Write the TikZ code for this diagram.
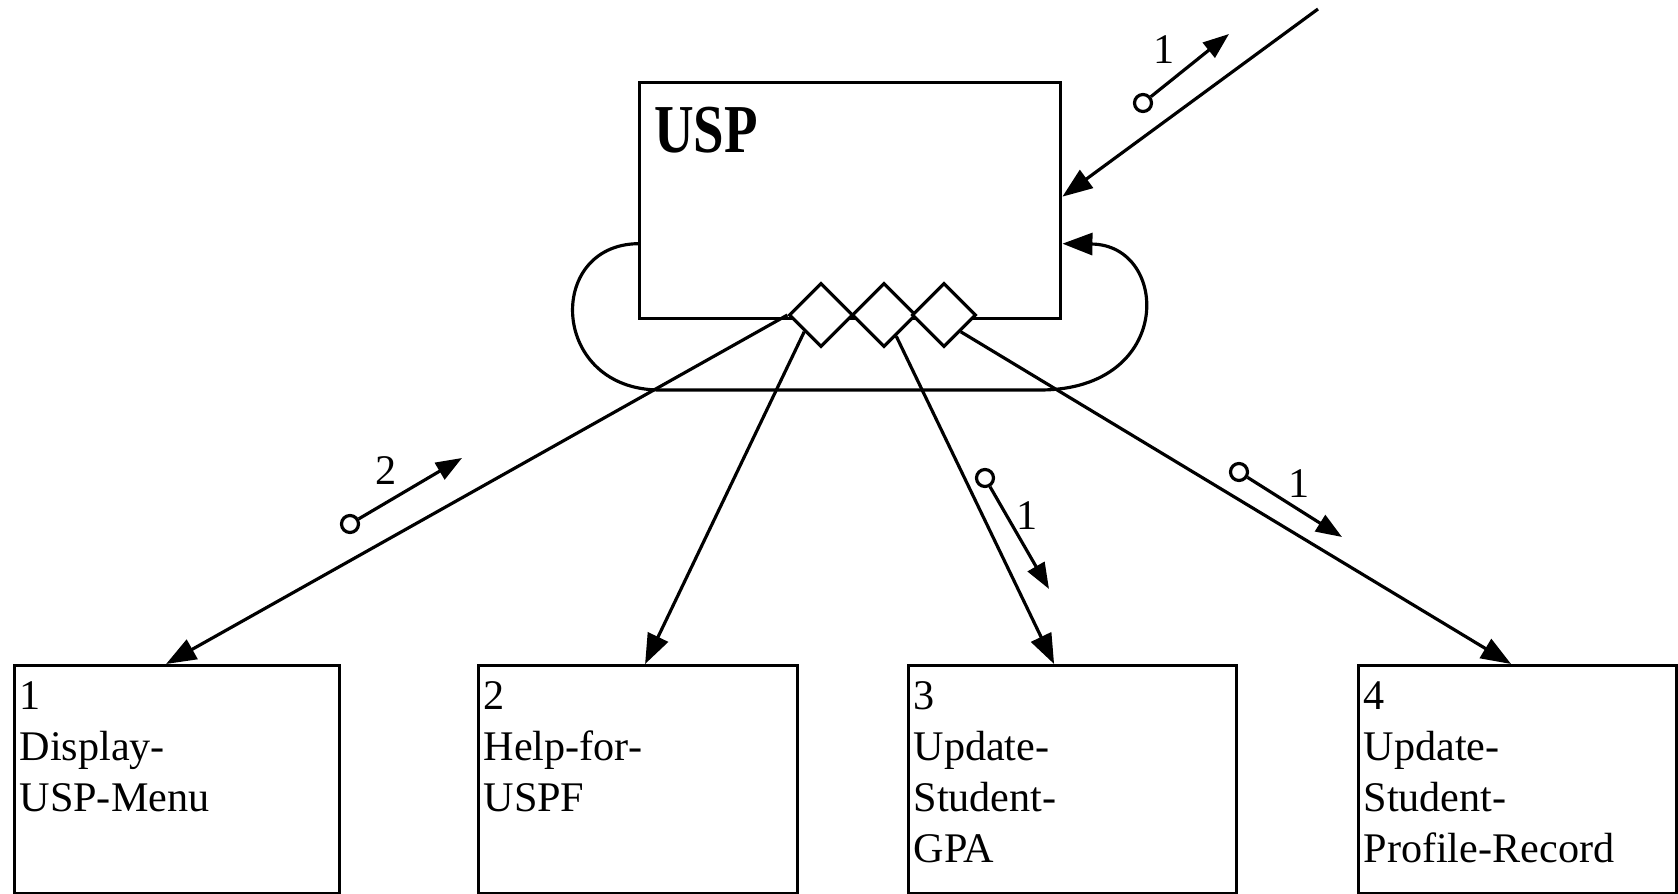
\documentclass[tikz,border=0pt]{standalone}
\usepackage{fontspec}
\setmainfont{Liberation Serif}
\newfontfamily\uspfont[FakeStretch=0.8]{Liberation Serif}
\usetikzlibrary{arrows.meta,shapes.geometric}
\begin{document}
\begin{tikzpicture}[x=0.01cm,y=-0.01cm,line width=0.9pt,
    proc/.style={draw,anchor=north west,minimum height=2.28cm,inner sep=0pt},
    txt/.style={anchor=north west,align=left,inner xsep=0.05cm,inner ysep=4.5pt,font=\fontsize{12}{14.5}\selectfont},
    conn/.style={diamond,draw,fill=white,minimum width=0.64cm,minimum height=0.64cm,inner sep=0pt},
    flow/.style={-{Triangle[length=0.3cm,width=0.22cm]}},
    cpl/.style={circle,draw,fill=white,minimum size=0.17cm,inner sep=0pt},
    cplarrow/.style={-{Triangle[length=0.26cm,width=0.19cm]}},
    num/.style={font=\fontsize{12}{14.5}\selectfont,inner sep=0pt}]
  \useasboundingbox (0,0) rectangle (1678,894);
  % calling module
  \node[proc,minimum width=4.21cm,minimum height=2.36cm] (usp) at (638,81) {};
  \node[anchor=base west,font=\uspfont\bfseries\fontsize{19.5}{24}\selectfont] (usplbl) at (641,153) {USP};
  \draw
    (821,315) node[conn] (d1){}
    (884,315) node[conn] (d2){}
    (944,315) node[conn] (d3){};
  % called modules
  \node[proc,minimum width=3.25cm] (p1) at (13,664) {};
  \node[proc,minimum width=3.19cm] (p2) at (477,664) {};
  \node[proc,minimum width=3.28cm] (p3) at (907,664) {};
  \node[proc,minimum width=3.18cm] (p4) at (1357,664) {};
  \node[txt] (p1t) at (p1.north west) {1\\Display-\\USP-Menu};
  \node[txt] (p2t) at (p2.north west) {2\\Help-for-\\USPF};
  \node[txt] (p3t) at (p3.north west) {3\\Update-\\Student-\\GPA};
  \node[txt] (p4t) at (p4.north west) {4\\Update-\\Student-\\Profile-Record};
  \begin{scope}[flow]
    \draw (d1.west) -- ([xshift=1.53cm]p1.north west);
    \draw (d1.south west) -- ([xshift=1.68cm]p2.north west);
    \draw (d2.-60) -- ([xshift=1.47cm]p3.north west);
    \draw (d3.south east) -- ([xshift=1.54cm]p4.north west);
    % incoming call and loop
    \coordinate (ext) at (1318,9);
    \draw (ext) -- ([yshift=0.04cm]usp.east);
    \draw ([yshift=-0.43cm]usp.west) .. controls (545,245) and (550,390) .. (660,390)
      -- (1040,390) .. controls (1175,390) and (1170,245) .. ([yshift=-0.43cm]usp.east);
  \end{scope}
  % couples
  \node[cpl] (c1) at (1143,103) {};
  \coordinate (c1h) at (1229,34);
  \draw[cplarrow] (c1) -- (c1h);
  \node[num] (n1) at (1164,50) {1};
  \node[cpl] (c2) at (350,524) {};
  \coordinate (c2h) at (462,458);
  \draw[cplarrow] (c2) -- (c2h);
  \node[num] (n2) at (386,471) {2};
  \node[cpl] (c3) at (985,478) {};
  \coordinate (c3h) at (1049,589);
  \draw[cplarrow] (c3) -- (c3h);
  \node[num] (n3) at (1027,516) {1};
  \node[cpl] (c4) at (1239,472) {};
  \coordinate (c4h) at (1342,537);
  \draw[cplarrow] (c4) -- (c4h);
  \node[num] (n4) at (1299,484) {1};
\end{tikzpicture}
\end{document}
